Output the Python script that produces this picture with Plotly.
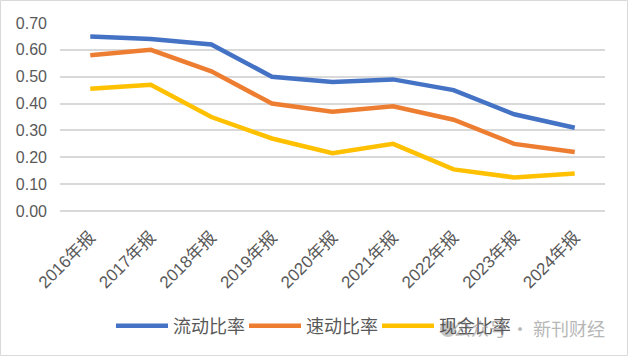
import plotly.graph_objects as go

categories = ["2016年报", "2017年报", "2018年报", "2019年报", "2020年报",
              "2021年报", "2022年报", "2023年报", "2024年报"]
current_ratio = [0.65, 0.64, 0.62, 0.50, 0.48, 0.49, 0.45, 0.36, 0.31]
quick_ratio = [0.58, 0.60, 0.52, 0.40, 0.37, 0.39, 0.34, 0.25, 0.22]
cash_ratio = [0.455, 0.47, 0.35, 0.27, 0.215, 0.25, 0.155, 0.125, 0.14]
series_names = ["流动比率", "速动比率", "现金比率"]
colors = ["#4472C4", "#ED7D31", "#FFC000"]
y_ticks = [0.0, 0.1, 0.2, 0.3, 0.4, 0.5, 0.6, 0.7]

FONT = "Liberation Sans, Noto Sans CJK SC, sans-serif"

fig = go.Figure()
for name, vals, c in zip(series_names, [current_ratio, quick_ratio, cash_ratio], colors):
    fig.add_trace(go.Scatter(x=categories, y=vals, name=name, mode="lines",
                             line=dict(color=c, width=4.5)))

W, H = 628, 356
L, R, T, B = 60, 23, 23, 145
pw, ph = W - L - R, H - T - B

def px_x(p):
    return (p - L) / pw

def px_y(p):
    return (H - B - p) / ph

fig.update_layout(
    width=W, height=H,
    margin=dict(l=L, r=R, t=T, b=B, autoexpand=False),
    paper_bgcolor="white", plot_bgcolor="white",
    font=dict(family=FONT, color="#595959", size=16),
    showlegend=True,
    legend=dict(orientation="h", x=px_x(111), xanchor="left", y=px_y(326), yanchor="middle",
                entrywidth=66, entrywidthmode="pixels", itemwidth=52,
                font=dict(size=18, color="#595959"), bgcolor="rgba(0,0,0,0)"),
    xaxis=dict(type="category", range=[-0.5, 8.5], tickangle=-45, showgrid=False,
               showline=False, ticks="", automargin=False, ticklabelstandoff=12,
               tickfont=dict(size=17, color="#595959")),
    yaxis=dict(range=[0, 0.7], tickvals=y_ticks, tickformat=".2f", showgrid=True,
               gridcolor="#D9D9D9", gridwidth=1.5, zeroline=True, zerolinecolor="#D9D9D9",
               zerolinewidth=1.5, showline=False, ticks="", automargin=False,
               ticklabelstandoff=12,
               tickfont=dict(size=16, color="#595959")),
    shapes=[dict(type="rect", xref="paper", yref="paper",
                 x0=px_x(0.5), x1=px_x(627.5), y0=px_y(355.5), y1=px_y(0.5),
                 line=dict(color="#D9D9D9", width=1), layer="below"),
            dict(type="circle", xref="paper", yref="paper",
                 x0=px_x(440), x1=px_x(456), y0=px_y(337), y1=px_y(321),
                 fillcolor="rgba(150,150,150,0.55)", line=dict(width=0), layer="above")],
    annotations=[dict(text="公众号 · 新刊财经", xref="paper", yref="paper",
                      x=px_x(607), y=px_y(328), xanchor="right", yanchor="middle",
                      showarrow=False, opacity=0.6,
                      font=dict(size=18, color="#888888", family="Noto Sans CJK SC"))],
)

fig.write_html("out.html", config={"displayModeBar": False},
               post_script="document.body.style.margin='0';")
